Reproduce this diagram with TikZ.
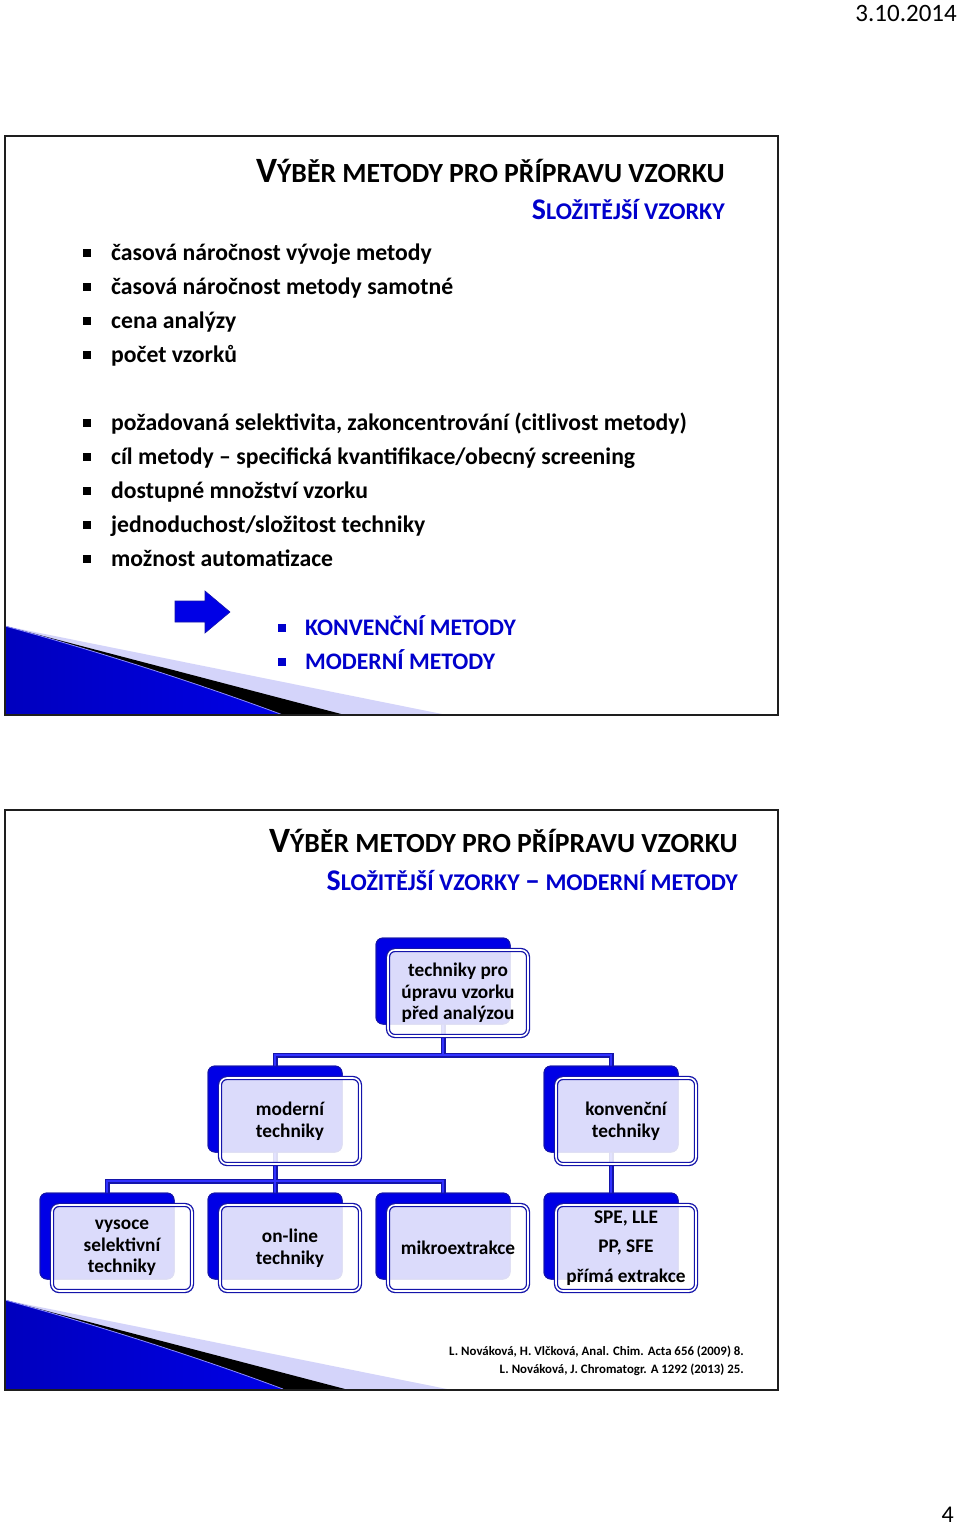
\documentclass[tikz,border=0pt]{standalone}
\usepackage{fontspec}
\setmainfont{Carlito}
\definecolor{tblue}{RGB}{0,0,204}
\definecolor{boxblue}{RGB}{0,0,230}
\definecolor{edgeblue}{RGB}{20,20,170}
\definecolor{lineblue}{RGB}{50,50,255}
\definecolor{lav}{RGB}{212,212,250}
\definecolor{swdark}{RGB}{0,0,190}
\definecolor{swlight}{RGB}{75,75,255}
\newcommand\fs[1]{\fontsize{#1}{#1}\selectfont}
\newcommand\sqb[1]{\textcolor{#1}{\rule[3pt]{8pt}{8pt}}}
\begin{document}
\begin{tikzpicture}[x=1pt,y=-1pt,
  bul/.style={anchor=base west, inner sep=0, font=\bfseries\fs{23.7}},
  bbul/.style={bul, text=tblue},
  ttl/.style={anchor=base east, inner sep=0, font=\bfseries},
  back/.style={rounded corners=7pt, fill=boxblue, draw=edgeblue, line width=1pt,
    minimum width=134pt, minimum height=86pt, inner sep=0},
  front/.style={rounded corners=7pt, fill=white, fill opacity=0.86, text opacity=1,
    draw=edgeblue, double=white, double distance=1.6pt, line width=1.3pt,
    minimum width=140pt, minimum height=86pt, align=center,
    font=\bfseries\fontsize{19.3}{21.5}\selectfont, text=black, inner sep=0},
  conn/.style={draw=lineblue, line width=2pt, preaction={draw=edgeblue, line width=5pt}},
  slide/.style={draw={rgb,255:red,30;green,30;blue,30}, line width=2pt}
]
\useasboundingbox (0,0) rectangle (960,1526);
\fill[white] (0,0) rectangle (960,1526);

\newcommand\swoosh[1]{%
\begin{scope}[shift={(0,#1)}]
  \fill[lav] (5,0) -- (447,89) -- (5,89) -- cycle;
  \fill[black] (5,0) -- (345,89) -- (5,89) -- cycle;
  \shade[left color=swdark, middle color=swlight, right color=boxblue]
    (5,0) .. controls (100,26) and (200,58) .. (283,89) -- (5,89) -- cycle;
  \draw[white!55!blue, line width=0.8pt] (5,0) .. controls (100,26) and (200,58) .. (283,89);
\end{scope}}

% header / footer
\node[anchor=base east, inner sep=0, font=\fs{25}] (date) at (957,21) {3.10.2014};
\node[anchor=base east, inner sep=0, font=\fs{24}] (pg) at (954,1522) {4};

% ---------------- slide 1 ----------------
\swoosh{626}
\draw[slide] (5,136) rectangle (778,715);
\node[ttl] (t1) at (725,182) {{\fs{35.6}V}{\fs{27.7}ÝBĚR METODY PRO PŘÍPRAVU VZORKU}};
\node[ttl, text=tblue] (s1) at (725,219) {{\fs{30}S}{\fs{24}LOŽITĚJŠÍ VZORKY}};

\node[bul] (a1) at (83,260) {\sqb{black}\hspace{20pt}časová náročnost vývoje metody};
\node[bul] (a2) at (83,294) {\sqb{black}\hspace{20pt}časová náročnost metody samotné};
\node[bul] (a3) at (83,328) {\sqb{black}\hspace{20pt}cena analýzy};
\node[bul] (a4) at (83,362) {\sqb{black}\hspace{20pt}počet vzorků};
\node[bul] (a5) at (83,430) {\sqb{black}\hspace{20pt}požadovaná selektivita, zakoncentrování (citlivost metody)};
\node[bul] (a6) at (83,464) {\sqb{black}\hspace{20pt}cíl metody -- specifická kvantifikace/obecný screening};
\node[bul] (a7) at (83,498) {\sqb{black}\hspace{20pt}dostupné množství vzorku};
\node[bul] (a8) at (83,532) {\sqb{black}\hspace{20pt}jednoduchost/složitost techniky};
\node[bul] (a9) at (83,566) {\sqb{black}\hspace{20pt}možnost automatizace};

\fill[boxblue, draw=edgeblue, line width=0.6pt]
  (175,601) -- (205,601) -- (205,591) -- (230,612) -- (205,633) -- (205,622) -- (175,622) -- cycle;

\node[bbul] (m1) at (278,635) {\sqb{tblue}\hspace{19pt}KONVENČNÍ METODY};
\node[bbul] (m2) at (278,669) {\sqb{tblue}\hspace{19pt}MODERNÍ METODY};

% ---------------- slide 2 ----------------
\swoosh{1300}
\draw[slide] (5,810) rectangle (778,1390);
\node[ttl] (t2) at (738,852) {{\fs{35.6}V}{\fs{27.7}ÝBĚR METODY PRO PŘÍPRAVU VZORKU}};
\node[ttl, text=tblue] (s2) at (738,890) {{\fs{30}S}{\fs{24}LOŽITĚJŠÍ VZORKY }{\fs{30}–}{\fs{24} MODERNÍ METODY}};

\coordinate (bar1) at (0,1055);
\coordinate (bar2) at (0,1181);

% back boxes (positions only, for connectors)
\path (443,981) node[back] (b1) {}
      (275,1109) node[back] (b2) {}
      (611,1109) node[back] (b3) {}
      (107,1236) node[back] (b4) {}
      (275,1236) node[back] (b5) {}
      (443,1236) node[back] (b6) {}
      (611,1236) node[back] (b7) {};

\draw[conn] (b1.center) -- (b1.center |- bar1) -| (b2.center)
            (b1.center |- bar1) -| (b3.center)
            (b2.center) -- (b2.center |- bar2) -| (b4.center)
            (b2.center |- bar2) -| (b6.center)
            (b2.center) -- (b5.center)
            (b3.center) -- (b7.center);

\foreach \n in {b1,b2,b3,b4,b5,b6,b7} {
  \node[back] at (\n) {};
}

\node[front] (f1) at (458,993) {techniky pro\\úpravu vzorku\\před analýzou};
\node[front] (f2) at (290,1121) {moderní\\techniky};
\node[front] (f3) at (626,1121) {konvenční\\techniky};
\node[front] (f4) at (122,1248) {vysoce\\selektivní\\techniky};
\node[front] (f5) at (290,1248) {on-line\\techniky};
\node[front] (f6) at (458,1248) {mikroextrakce};
\node[front, font=\bfseries\fontsize{19.3}{29.5}\selectfont] (f7) at (626,1248) {SPE, LLE\\PP, SFE\\přímá extrakce};

\node[anchor=base east, inner sep=0, font=\bfseries\fs{12.85}] (r1) at (744,1355)
  {L. Nováková, H. Vlčková, Anal. Chim. Acta 656 (2009) 8.};
\node[anchor=base east, inner sep=0, font=\bfseries\fs{12.85}] (r2) at (744,1373)
  {L. Nováková, J. Chromatogr. A 1292 (2013) 25.};
\end{tikzpicture}
\end{document}
